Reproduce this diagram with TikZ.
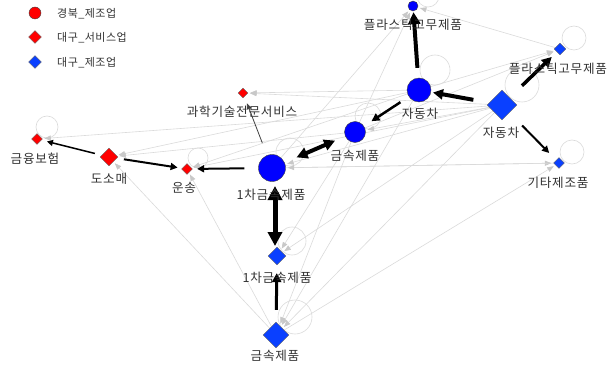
\documentclass[tikz,border=0pt]{standalone}
\usepackage{fontspec}
\usetikzlibrary{shapes.geometric,arrows.meta,backgrounds}
\newfontfamily\kr[LetterSpace=6]{Noto Sans CJK KR}
\newfontfamily\krleg[LetterSpace=4]{Noto Sans CJK KR}
\definecolor{cblue}{RGB}{0,0,255}
\definecolor{dblue}{RGB}{10,64,255}
\definecolor{nred}{RGB}{255,0,0}
\definecolor{gline}{RGB}{218,218,218}
\definecolor{ghead}{RGB}{200,200,200}
\definecolor{labc}{RGB}{50,50,50}
\begin{document}
\begin{tikzpicture}[x=1pt,y=-1pt,
  cnode/.style={circle,draw=black!75,fill=cblue,line width=0.4pt,inner sep=0pt},
  bdia/.style={diamond,draw=black!60,fill=dblue,line width=0.4pt,inner sep=0pt},
  rdia/.style={diamond,draw=black!60,fill=nred,line width=0.4pt,inner sep=0pt},
  rcirc/.style={circle,draw=black!75,fill=nred,line width=0.4pt,inner sep=0pt},
  lab/.style={font=\kr\fontsize{12.6}{12.6}\selectfont,text=labc,inner sep=0pt},
  leg/.style={font=\krleg\fontsize{11}{11}\selectfont,text=labc,inner sep=0pt,anchor=west},
  gedge/.style={draw=gline,line width=0.6pt,-{Triangle[length=6.5pt,width=5pt,color=ghead]},shorten >=2pt},
  gloop/.style={draw=gline,line width=0.6pt},
  bedge/.style={draw=black,-{Triangle[length=#1,width=#1]}},
  bbedge/.style={draw=black,{Triangle[length=#1,width=#1]}-{Triangle[length=#1,width=#1]}}
]
\useasboundingbox (0,0) rectangle (612,374);

% nodes
\node[cnode,minimum size=10pt] (A) at (413,6) {};
\node[bdia,minimum size=12pt] (B) at (560,49) {};
\node[cnode,minimum size=24pt] (C) at (419,90) {};
\node[bdia,minimum size=30pt] (D) at (502,105) {};
\node[cnode,minimum size=21pt] (E) at (355,132) {};
\node[bdia,minimum size=11pt] (F) at (559,163) {};
\node[rdia,minimum size=10pt] (G) at (243,93) {};
\node[rdia,minimum size=11pt] (H) at (37,139) {};
\node[rdia,minimum size=18pt] (I) at (109,157) {};
\node[rdia,minimum size=11pt] (J) at (187,169) {};
\node[cnode,minimum size=27pt] (K) at (272,168) {};
\node[bdia,minimum size=18pt] (L) at (277,256) {};
\node[bdia,minimum size=26pt] (M) at (276,335) {};

\begin{scope}[on background layer]
% self loops
\draw[gloop] (428,-4) circle (11);
\draw[gloop] (574,38) circle (12);
\draw[gloop] (435,70) circle (15);
\draw[gloop] (522,85) circle (17);
\draw[gloop] (368,116) circle (13);
\draw[gloop] (290,152) circle (14);
\draw[gloop] (198,158) circle (10);
\draw[gloop] (47,127) circle (11);
\draw[gloop] (572,152) circle (12);
\draw[gloop] (292,241) circle (14);
\draw[gloop] (295,317) circle (17);

% gray edges
\draw[gedge] (D) -- (G);
\draw[gedge] (D) -- (H);
\draw[gedge] (C) -- (I);
\draw[gedge] (E) -- (I);
\draw[gedge] (M) -- (I);
\draw[gedge] (M) -- (J);
\draw[gedge] (M) -- (F);
\draw[gedge] (K) -- (F);
\draw[gedge] (F) -- (K);
\draw[gedge] (D) -- (K);
\draw[gedge] (D) -- (J);
\draw[gedge] (C) -- (J);
\draw[gedge] (D) -- (E);
\draw[gedge] (C) -- (B);
\draw[gedge] (E) -- (B);
\draw[gedge] (B) -- (A);
\draw[gedge] (K) -- (A);
\draw[gedge] (E) -- (A);
\draw[gedge] (E) -- (M);
\draw[gedge] (C) -- (M);
\draw[gedge] (D) -- (M);
\draw[gedge] (E) -- (L);
\draw[gedge] (D) -- (L);
\draw[gedge] (C) -- (G);
\end{scope}

% black edges
\draw[bedge=12pt,line width=4pt,shorten <=10pt,shorten >=1pt] (C) -- (A);
\draw[bedge=10pt,line width=3.5pt,shorten <=17pt,shorten >=7pt] (D) -- (B);
\draw[bedge=10pt,line width=4pt,shorten <=16pt,shorten >=2pt] (D) -- (C);
\draw[bedge=8pt,line width=2.5pt,shorten <=10pt,shorten >=9pt] (C) -- (E);
\draw[bedge=7pt,line width=2pt,shorten <=18pt,shorten >=10pt] (D) -- (F);
\draw[bbedge=11pt,line width=4pt,shorten <=13pt,shorten >=11pt] (K) -- (E);
\draw[bbedge=14pt,line width=5pt,shorten <=18pt,shorten >=10pt] ([xshift=3pt]K.center) -- ([xshift=-2pt]L.center);
\draw[bedge=9pt,line width=3pt,shorten <=12pt,shorten >=8pt] (M) -- (L);
\draw[bedge=7pt,line width=2pt,shorten <=14pt,shorten >=4.5pt] (K) -- (J);
\draw[bedge=7pt,line width=2pt,shorten <=7pt,shorten >=4.5pt] (I) -- (J);
\draw[bedge=6pt,line width=1.5pt,shorten <=7pt,shorten >=5.5pt] (I) -- (H);
\draw[draw=black!75,line width=0.8pt,-{Triangle[length=6pt,width=5pt]},shorten <=13pt,shorten >=7pt] (K) -- (G);

% labels
\node[lab] (Alab) at (413,25) {플라스틱고무제품};
\node[lab] (Blab) at (558,69) {플라스틱고무제품};
\node[lab] (Clab) at (420,114) {자동차};
\node[lab] (Dlab) at (501,133) {자동차};
\node[lab] (Elab) at (355,156) {금속제품};
\node[lab] (Flab) at (558,183) {기타제조품};
\node[lab] (Glab) at (242,112) {과학기술전문서비스};
\node[lab] (Hlab) at (35,159) {금융보험};
\node[lab] (Ilab) at (109,179) {도소매};
\node[lab] (Jlab) at (184,188) {운송};
\node[lab] (Klab) at (271,195) {1차금속제품};
\node[lab] (Llab) at (277,278) {1차금속제품};
\node[lab] (Mlab) at (275,356) {금속제품};

% legend
\node[rcirc,minimum size=12pt] (lg1) at (35,13) {};
\node[rdia,minimum size=13pt] (lg2) at (35,37) {};
\node[bdia,minimum size=13pt] (lg3) at (35,62) {};
\node[leg] (lt1) at (57,14) {경북\_제조업};
\node[leg] (lt2) at (57,38) {대구\_서비스업};
\node[leg] (lt3) at (57,63) {대구\_제조업};
\end{tikzpicture}
\end{document}
